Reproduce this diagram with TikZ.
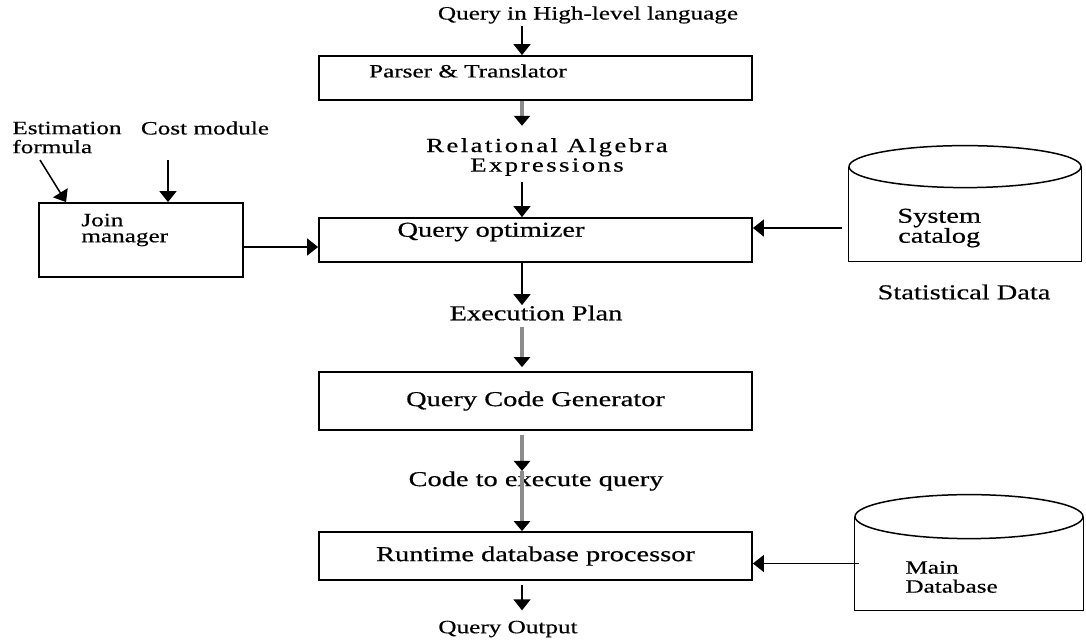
\documentclass[tikz,border=0pt]{standalone}
\usepackage{fontspec}
\setmainfont{Liberation Serif}[FakeStretch=1.34,FakeBold=0.5]
\usetikzlibrary{arrows.meta,positioning,calc}

\begin{document}
\begin{tikzpicture}[x=0.5pt,y=-0.5pt,
    stage/.style={draw,line width=0.9pt,minimum width=216.5pt,inner sep=0pt,font=\fontsize{10.6}{10.6}\selectfont},
    plain/.style={inner sep=0pt,align=center,font=\fontsize{10.6}{10.6}\selectfont},
    small/.style={inner sep=0pt,align=left,font=\fontsize{9.4}{9.5}\selectfont},
    flow/.style={-{Triangle[width=8.5pt,length=5.5pt]},line width=0.75pt},
    grayflow/.style={-{Triangle[width=8pt,length=5pt,color=black]},line width=1.7pt,black!45},
    dbbody/.style={minimum width=#1,minimum height=47pt,inner sep=0pt}
  ]
    \useasboundingbox (0,0) rectangle (1086,639);
    \coordinate (spine) at (522,0);

    % main pipeline
    \node[small] (qin) at (588,15) {Query in High-level language};
    \node[stage,minimum height=22pt] (parser) at (535.5,78) {};
    \node[small] (parsertxt) at (468,71) {Parser \& Translator};
    \node[plain,font={\fontsize{10}{8.5}\selectfont\addfontfeatures{LetterSpace=12}}] (ra) at (547,157) {Relational Algebra\\Expressions};
    \node[stage,minimum height=22pt] (opt) at (535.5,240) {};
    \node[plain] (opttxt) at (491,232) {Query optimizer};
    \node[plain] (ep) at (536,313) {Execution Plan};
    \node[stage,minimum height=29pt] (qcg) at (535.5,401) {Query Code Generator};
    \node[plain] (code) at (536,481) {Code to execute query};
    \node[stage,minimum height=24pt] (rdp) at (535.5,556) {Runtime database processor};
    \node[small] (qout) at (508,629) {Query Output};

    % join manager and its inputs
    \node[small,anchor=west] (est) at (12,137.5) {Estimation\\formula};
    \node[small] (cost) at (205,128) {Cost module};
    \node[draw,line width=0.9pt,minimum width=102pt,minimum height=37pt] (join) at (141,240) {};
    \node[small,font=\fontsize{9.4}{8}\selectfont,anchor=west] (jointxt) at (81,230) {Join\\manager};
    \coordinate (estfoot) at (40,160);
    \coordinate (costfoot) at (168,160);

    % stores
    \node[dbbody=116pt] (cat) at (965,214) {};
    \draw[line width=0.75pt] (cat.north west) -- (cat.south west) -- (cat.south east) -- (cat.north east);
    \draw[line width=0.75pt,fill=white] (cat.north) ellipse [x radius=116, y radius=21];
    \node[plain,font=\fontsize{10.6}{10}\selectfont,anchor=west] (cattxt) at (897,228) {System\\catalog};
    \node[plain] (stat) at (964,292) {Statistical Data};
    \node[dbbody=114pt,minimum height=46.5pt] (db) at (969,563.5) {};
    \draw[line width=0.75pt] (db.north west) -- (db.south west) -- (db.south east) -- (db.north east);
    \draw[line width=0.75pt,fill=white] (db.north) ellipse [x radius=114, y radius=22];
    \node[small,anchor=west] (dbtxt) at (905,577) {Main\\Database};

    % arrows down the pipeline
    \draw[flow,shorten <=1pt] (qin.south -| spine) -- (parser.north -| spine);
    \draw[grayflow] (parser.south -| spine) -- ([yshift=6pt]ra.north -| spine);
    \draw[flow,shorten <=3pt] (ra.south -| spine) -- (opt.north -| spine);
    \draw[flow] (opt.south -| spine) -- (ep.north -| spine);
    \draw[grayflow,shorten <=3pt,shorten >=2pt] (ep.south -| spine) -- (qcg.north -| spine);
    \draw[grayflow,shorten <=2pt] (qcg.south -| spine) -- (code.north -| spine);
    \draw[grayflow] (code.north -| spine) -- (rdp.north -| spine);
    \draw[flow,shorten <=2pt,shorten >=5pt] (rdp.south -| spine) -- (qout.north -| spine);

    % side inputs
    \draw[flow] (estfoot) -- ([xshift=14pt]join.north west);
    \draw[flow] (costfoot) -- (join.north -| costfoot);
    \coordinate (joinout) at ([yshift=-3.5pt]join.east);
    \draw[flow] (joinout) -- (joinout -| opt.west);
    \coordinate (catin) at ([xshift=-3.5pt]cat.west |- cattxt);
    \draw[flow] (catin) -- (catin -| opt.east);
    \coordinate (dbin) at ([xshift=2pt]db.west);
    \draw[flow] (dbin) -- (dbin -| rdp.east);
\end{tikzpicture}
\end{document}
